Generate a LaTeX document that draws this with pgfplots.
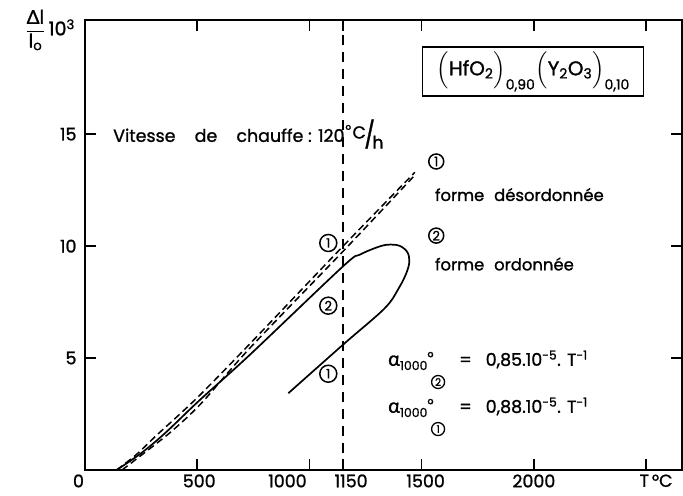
\documentclass[border=0pt]{standalone}
\usepackage{pgfplots}
\pgfplotsset{compat=1.18}
\usepackage{amsmath}
\usepackage{graphicx}
\usepackage{fontspec}
\setmainfont{Poppins}[FakeBold=1.2]
\newfontfamily\grk{Lato}[FakeBold=1.2]

% label shifted sideways by half of #1 without changing its anchor
\newcommand\shiftlbl[2]{\makebox[0pt]{\hspace*{#1}#2}}
% small circled numeral for inline use
\newcommand\circnum[1]{\tikz[baseline=(cn.base)]\node[circle,draw,line width=1.3bp,inner sep=0.4bp,minimum size=13bp,anchor=center,font=\fontsize{10.5}{10.5}\selectfont](cn){#1};}
% expansion coefficient label
\newcommand\alphalbl[2]{{\grk\fontsize{20}{20}\selectfont α}\raisebox{-0.45ex}{\fontsize{12.5}{13}\selectfont 1000}\raisebox{0.35ex}{\fontsize{15}{15}\selectfont °}\kern-0.15em\raisebox{-2.1ex}{\circnum{#1}}\hspace{0.8em}=\hspace{0.8em}#2}

\begin{document}
\begin{tikzpicture}
\begin{axis}[
  scale only axis,
  width=597bp, height=450bp,
  xmin=0, xmax=2660, ymin=0, ymax=20.1,
  clip=false,
  axis line style={line width=1.7bp},
  tick style={line width=1.5bp, black},
  tick align=inside,
  major tick length=11bp,
  xtick pos=both, ytick pos=both,
  xticklabel pos=lower, yticklabel pos=left,
  xtick={0,500,1000,1150,1500,2000,2500},
  xticklabels={\shiftlbl{-13bp}{0},\shiftlbl{4bp}{500},\shiftlbl{-44bp}{1000},\shiftlbl{16bp}{1150},\shiftlbl{8bp}{1500},2000,\shiftlbl{20bp}{T\,°C}},
  ytick={5,10,15},
  yticklabels={5,10,15},
  tick label style={font=\fontsize{17.5}{19}\selectfont},
  yticklabel style={xshift=-5bp},
  xticklabel style={yshift=-1bp},
]

% heating rate reference temperature
\addplot[black, line width=1.5bp, dash pattern=on 10bp off 7bp] coordinates {(1150,0) (1150,20.1)};

% disordered form (1): two runs
\addplot[black, line width=1.5bp, dash pattern=on 7bp off 4bp, smooth, tension=0.5] coordinates {
  (141,0) (230,0.7) (319,1.55) (497,3.2) (735,5.64) (1150,10.0) (1470,13.3)};
\addplot[black, line width=1.5bp, dash pattern=on 7bp off 4bp, smooth, tension=0.5] coordinates {
  (165,0) (282,0.9) (393,1.79) (520,3.0) (735,5.45) (1150,9.77) (1465,13.12)};

% ordered form (2): heating and transformation loop
\addplot[black, line width=1.7bp, smooth, tension=0.55] coordinates {
  (141,0) (250,0.75) (356,1.64) (512,3.13) (735,5.15) (1150,9.1)
  (1225,9.62) (1314,9.99) (1362,10.07) (1405,10.0) (1437,9.72) (1445,9.3)
  (1432,8.8) (1398,8.12) (1335,7.22) (1150,5.6) (906,3.43)};

% circled run markers along the curves
\node[circle, draw, line width=1.5bp, minimum size=17bp, inner sep=0pt, font=\fontsize{13}{13}\selectfont] at (axis cs:1084,10.14) {1};
\node[circle, draw, line width=1.5bp, minimum size=17bp, inner sep=0pt, font=\fontsize{13}{13}\selectfont] at (axis cs:1084,7.34) {2};
\node[circle, draw, line width=1.5bp, minimum size=17bp, inner sep=0pt, font=\fontsize{13}{13}\selectfont] at (axis cs:1084,4.3) {1};

% curve descriptions
\node[circle, draw, line width=1.5bp, minimum size=15bp, inner sep=0pt, font=\fontsize{13}{13}\selectfont] at (axis cs:1565,13.78) {1};
\node[anchor=west, inner sep=0pt, font=\fontsize{16.5}{18}\selectfont] at (axis cs:1559,12.3) {forme\hspace{0.6em}désordonnée};
\node[circle, draw, line width=1.5bp, minimum size=15bp, inner sep=0pt, font=\fontsize{13}{13}\selectfont] at (axis cs:1565,10.47) {2};
\node[anchor=west, inner sep=0pt, font=\fontsize{16.5}{18}\selectfont] at (axis cs:1559,9.2) {forme\hspace{0.6em}ordonnée};

% composition
\node[draw, line width=1.4bp, minimum width=221bp, minimum height=49bp, inner sep=2bp, font=\fontsize{20}{22}\selectfont] at (axis cs:1997,17.8)
  {$\Bigl(\text{HfO}_{\text{2}}\Bigr)_{\text{0,90}}\Bigl(\text{Y}_{\text{2}}\text{O}_{\text{3}}\Bigr)_{\text{0,10}}$};

% heating rate
\node[anchor=west, inner sep=0pt, font=\fontsize{17.5}{19}\selectfont] at (axis cs:125,15)
  {Vitesse\hspace{1.1em}de\hspace{1.1em}chauffe : 120\kern0.05em\raisebox{0.75ex}{\fontsize{14}{14}\selectfont °}\kern0.08em\raisebox{0.35ex}{C}\kern-0.1em\raisebox{-0.25ex}{\scalebox{1.3}[1.5]{/}}\kern-0.15em\raisebox{-0.7ex}{h}};

% expansion coefficients
\node[anchor=west, inner sep=0pt, font=\fontsize{17.5}{19}\selectfont] at (axis cs:1350,4.47)
  {\alphalbl{2}{0,85.10\textsuperscript{-5}. T\textsuperscript{-1}}};
\node[anchor=west, inner sep=0pt, font=\fontsize{17.5}{19}\selectfont] at (axis cs:1350,2.37)
  {\alphalbl{1}{0,88.10\textsuperscript{-5}. T\textsuperscript{-1}}};

% ordinate label
\node[anchor=east, inner sep=0pt, xshift=-10bp, yshift=-10bp, font=\fontsize{19}{21}\selectfont] at (rel axis cs:0,1)
  {$\dfrac{\text{{\grk Δ}l}}{\text{l}_{\text{o}}}$\,10\textsuperscript{3}};
\end{axis}
\pgfresetboundingbox
\useasboundingbox ([shift={(-85bp,-26bp)}]current axis.south west) rectangle ([shift={(1bp,20bp)}]current axis.north east);
\end{tikzpicture}
\end{document}
